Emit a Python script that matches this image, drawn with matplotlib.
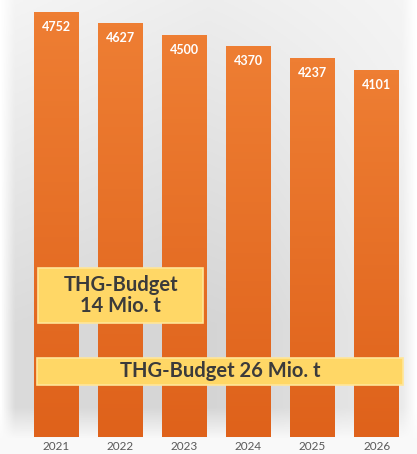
import numpy as np
import matplotlib.pyplot as plt
from matplotlib.patches import Rectangle
from matplotlib.colors import LinearSegmentedColormap

years = ["2021", "2022", "2023", "2024", "2025", "2026"]
emissions = [4752, 4627, 4500, 4370, 4237, 4101]
budget_short = "THG-Budget\n14 Mio. t"
budget_long = "THG-Budget 26 Mio. t"

plt.rcParams["font.family"] = ["Lato", "DejaVu Sans"]

fig = plt.figure(figsize=(4.17, 4.54), dpi=100)
fig.patch.set_facecolor("white")

# soft grey backdrop behind the bars
bg = fig.add_axes([0, 0, 1, 1], zorder=0)
bg.set_axis_off()
yy = np.linspace(0, 1, 200)[:, None]
xx = np.linspace(0, 1, 200)[None, :]
shade = 0.96 - 0.10 * np.clip(yy * 1.4, 0, 1) * (1 - 0.6 * np.clip((xx - 0.55) * 2.5, 0, 1))
shade = shade * (0.97 + 0.03 * np.abs(xx - 0.5) * 2)
edge = np.clip(np.minimum(xx, 1 - xx) * 30, 0, 1)
shade = 1 - (1 - shade) * edge
# fade back to white towards the year labels
fade = np.clip((yy - 0.90) / 0.07, 0, 1)
shade = shade + (0.98 - shade) * fade
bg.imshow(np.dstack([shade] * 3), extent=(0, 1, 0, 1), aspect="auto", origin="upper")
bg.set_xlim(0, 1)
bg.set_ylim(0, 1)

ax = fig.add_axes([0, 0.0374, 1, 0.9626], zorder=1)
ax.patch.set_alpha(0)
x = np.arange(len(years))
bars = ax.bar(x, emissions, width=0.70, color="#E9722A", zorder=2)
ax.set_xlim(-0.88, 5.63)
ax.set_ylim(0, 4887)

orange = LinearSegmentedColormap.from_list("og", ["#DF621B", "#EE7E33"])
grad = np.linspace(0, 1, 100)[:, None]
for b in bars:
    im = ax.imshow(grad, cmap=orange, origin="lower", aspect="auto", zorder=2.5,
                   extent=(b.get_x(), b.get_x() + b.get_width(), 0, b.get_height()))
    im.set_clip_path(b)

for xi, v in zip(x, emissions):
    ax.text(xi, v - 168, str(v), ha="center", va="center", color="white",
            fontsize=9, fontweight="bold", zorder=4)

for s in ax.spines.values():
    s.set_visible(False)
ax.set_yticks([])
ax.set_xticks(x)
ax.set_xticklabels(years, fontsize=8.5, color="#595959")
ax.tick_params(axis="x", length=0, pad=3)

# budget boxes
box1 = Rectangle((0.091, 0.2885), 0.396, 0.121, transform=fig.transFigure,
                 facecolor="#FFD766", edgecolor="#FFE699", lw=1.2, zorder=5)
box2 = Rectangle((0.0887, 0.152), 0.878, 0.0595, transform=fig.transFigure,
                 facecolor="#FFD766", edgecolor="#FFE699", lw=1.2, zorder=5)
fig.patches.extend([box1, box2])
fig.text(0.29, 0.349, budget_short, ha="center", va="center", fontsize=14.5,
         fontweight="bold", color="#3B3B3B", linespacing=1.05, zorder=6)
fig.text(0.528, 0.182, budget_long, ha="center", va="center", fontsize=14.5,
         fontweight="bold", color="#3B3B3B", zorder=6)

fig.savefig("out.png", dpi=100)
